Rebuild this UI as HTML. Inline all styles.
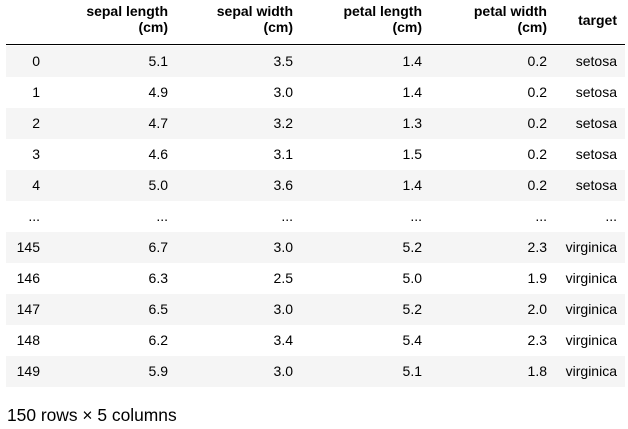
<!DOCTYPE html>
<html><head><meta charset="utf-8"><style>
body{margin:0;width:628px;height:429px;background:#fff;font-family:"Liberation Sans",Arial,sans-serif;color:#000;position:relative;overflow:hidden}
.hd{position:absolute;top:3px;font-weight:bold;font-size:14px;line-height:16px;text-align:right}
.rule{position:absolute;left:6px;width:619px;top:44px;height:1px;background:#000}
.row{position:absolute;left:6px;width:619px;height:31px;font-size:14px;line-height:31px}
.row.g{background:#f5f5f5}
.c{position:absolute;top:0;text-align:right;white-space:nowrap}
.foot{position:absolute;left:7px;top:404px;font-size:17.4px;line-height:22px}
</style></head><body>
<div class="hd" style="right:460px">sepal length<br>(cm)</div>
<div class="hd" style="right:335px">sepal width<br>(cm)</div>
<div class="hd" style="right:206px">petal length<br>(cm)</div>
<div class="hd" style="right:81px">petal width<br>(cm)</div>
<div class="hd" style="right:11px;top:12px">target</div>
<div class="rule"></div>
<div id="rows"></div>
<div class="foot">150 rows × 5 columns</div>
<script>
const idx=["0","1","2","3","4","...","145","146","147","148","149"];
const sl=["5.1","4.9","4.7","4.6","5.0","...","6.7","6.3","6.5","6.2","5.9"];
const sw=["3.5","3.0","3.2","3.1","3.6","...","3.0","2.5","3.0","3.4","3.0"];
const pl=["1.4","1.4","1.3","1.5","1.4","...","5.2","5.0","5.2","5.4","5.1"];
const pw=["0.2","0.2","0.2","0.2","0.2","...","2.3","1.9","2.0","2.3","1.8"];
const tg=["setosa","setosa","setosa","setosa","setosa","...","virginica","virginica","virginica","virginica","virginica"];
const rights=[585,457,332,203,78,8];
const host=document.getElementById('rows');
for(let i=0;i<idx.length;i++){
  const r=document.createElement('div');
  r.className='row'+(i%2===0?' g':'');
  r.style.top=(46+31*i)+'px';
  
  
  const vals=[idx[i],sl[i],sw[i],pl[i],pw[i],tg[i]];
  vals.forEach((v,j)=>{
    const c=document.createElement('div');
    c.className='c';
    c.style.right=rights[j]+'px';
    c.textContent=v;
    
    
    r.appendChild(c);
  });
  host.appendChild(r);
}
</script>
</body></html>
